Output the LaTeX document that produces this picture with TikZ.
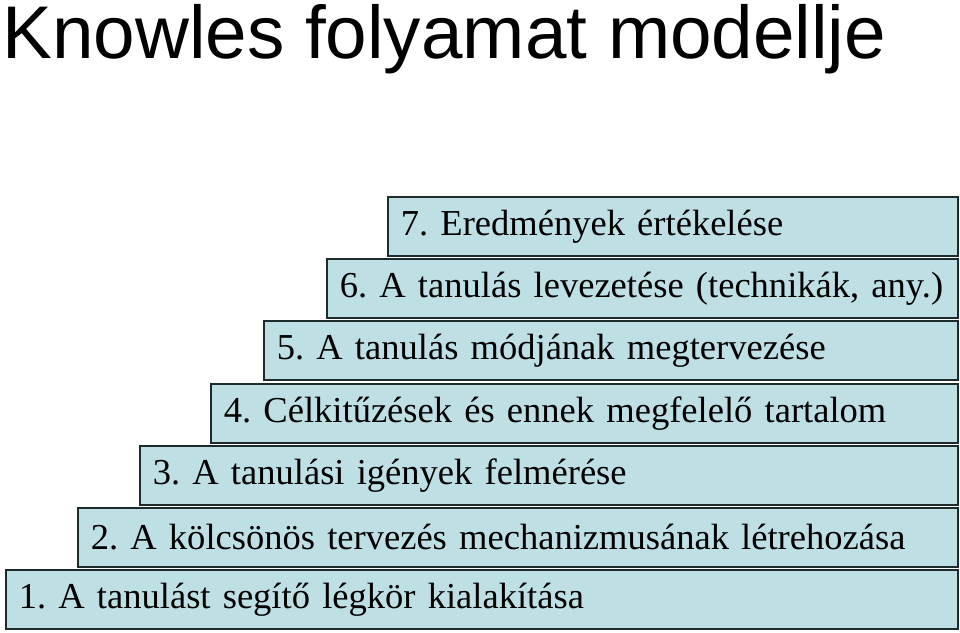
\documentclass[tikz,border=0pt]{standalone}
\usepackage{fontspec}
\setmainfont{Liberation Serif}
\newfontfamily\titlefont{Liberation Sans}
\definecolor{boxfill}{HTML}{BEE0E4}
\definecolor{boxline}{HTML}{1E2B2C}
\begin{document}
\frenchspacing
\begin{tikzpicture}[x=0.75pt,y=-0.75pt]
\tikzset{
  stepbox/.style={draw=boxline, fill=boxfill, line width=1.3pt, anchor=north west,
    inner xsep=9.75pt, inner ysep=0pt, minimum height=44.5pt, align=left,
    font=\fontsize{27.4}{29}\selectfont\frenchspacing},
}
\useasboundingbox (0,0) rectangle (960,632);
\node[anchor=base west, inner sep=0pt, font=\titlefont\fontsize{56}{60}\selectfont] (title) at (2,58) {Knowles folyamat modellje};
\node[stepbox, text width={(957-387)*0.75pt-19.5pt}] (s7) at (387,196) {7. Eredmények értékelése};
\node[stepbox, text width={(957-326)*0.75pt-19.5pt}] (s6) at (326,258) {6. A tanulás levezetése (technikák, any.)};
\node[stepbox, text width={(957-263)*0.75pt-19.5pt}] (s5) at (263,320) {5. A tanulás módjának megtervezése};
\node[stepbox, text width={(957-210)*0.75pt-19.5pt}] (s4) at (210,383) {4. Célkitűzések és ennek megfelelő tartalom};
\node[stepbox, text width={(957-139)*0.75pt-19.5pt}] (s3) at (139,445) {3. A tanulási igények felmérése};
\node[stepbox, text width={(957-77)*0.75pt-19.5pt}] (s2) at (77,507) {2. A kölcsönös tervezés mechanizmusának létrehozása};
\node[stepbox, text width={(957-5)*0.75pt-19.5pt}] (s1) at (5,569) {1. A tanulást segítő légkör kialakítása};
\end{tikzpicture}
\end{document}
